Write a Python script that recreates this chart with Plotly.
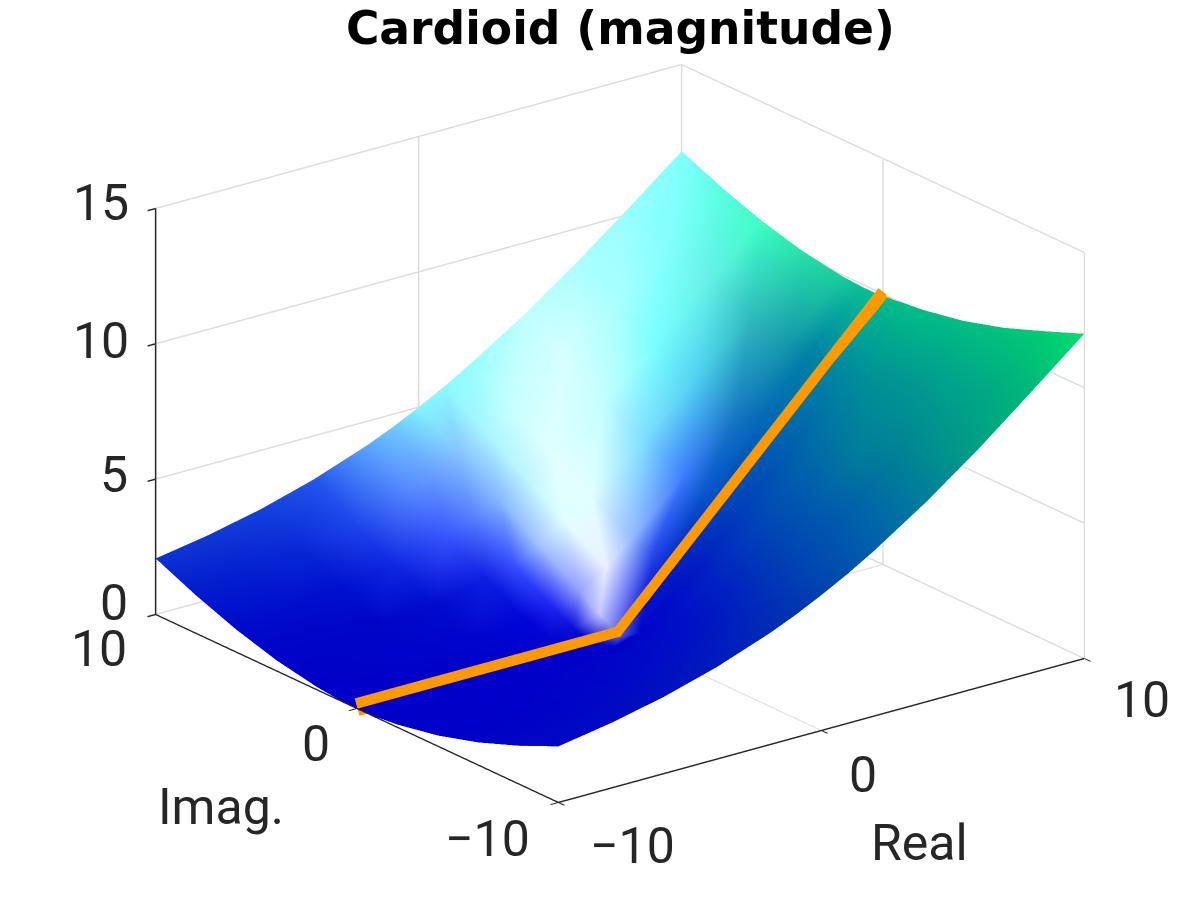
# Imports
import plotly.graph_objects as go

real_values = [-10, -8, -6, -4, -2, -1, 0, 1, 2, 4, 6, 8, 10]
imag_values = [-10, -8, -6, -4, -2, -1, 0, 1, 2, 4, 6, 8, 10]

# magnitude, one row per imag value
magnitude = [
    [2.07, 2.40, 2.83, 3.39, 4.10, 4.52, 5.00, 5.52, 6.10, 7.39, 8.83, 10.40, 12.00],
    [1.40, 1.66, 2.00, 2.47, 3.12, 3.53, 4.00, 4.53, 5.12, 6.47, 8.00, 9.66, 11.40],
    [0.83, 1.00, 1.24, 1.61, 2.16, 2.54, 3.00, 3.54, 4.16, 5.61, 7.24, 9.00, 10.83],
    [0.39, 0.47, 0.61, 0.83, 1.24, 1.56, 2.00, 2.56, 3.24, 4.83, 6.61, 8.47, 10.39],
    [0.10, 0.12, 0.16, 0.24, 0.41, 0.62, 1.00, 1.62, 2.41, 4.24, 6.16, 8.12, 10.10],
    [0.02, 0.03, 0.04, 0.06, 0.12, 0.21, 0.50, 1.21, 2.12, 4.06, 6.04, 8.03, 10.02],
    [0.00, 0.00, 0.00, 0.00, 0.00, 0.00, 0.00, 1.00, 2.00, 4.00, 6.00, 8.00, 9.90],
    [0.02, 0.03, 0.04, 0.06, 0.12, 0.21, 0.50, 1.21, 2.12, 4.06, 6.04, 8.03, 9.90],
    [0.10, 0.12, 0.16, 0.24, 0.41, 0.62, 1.00, 1.62, 2.41, 4.24, 6.16, 8.12, 9.95],
    [0.39, 0.47, 0.61, 0.83, 1.24, 1.56, 2.00, 2.56, 3.24, 4.83, 6.61, 8.40, 10.20],
    [0.83, 1.00, 1.24, 1.61, 2.16, 2.54, 3.00, 3.54, 4.16, 5.61, 7.20, 8.90, 10.60],
    [1.40, 1.66, 2.00, 2.47, 3.12, 3.53, 4.00, 4.53, 5.12, 6.45, 7.95, 9.55, 11.15],
    [2.07, 2.40, 2.83, 3.39, 4.10, 4.52, 5.00, 5.52, 6.10, 7.35, 8.75, 10.25, 11.80],
]

# colour, one row per imag value
surface_rgb = [
    [(0,8,195), (0,12,192), (0,18,190), (0,28,185), (0,42,180), (0,52,176), (0,65,172), (0,80,170), (0,95,170), (0,125,155), (0,160,130), (0,185,120), (0,222,110)],
    [(0,5,196), (0,8,195), (0,10,195), (0,18,192), (0,30,188), (0,40,184), (0,50,180), (0,65,178), (0,80,175), (0,110,165), (0,145,140), (0,170,130), (0,205,115)],
    [(0,2,198), (0,3,198), (0,5,198), (0,10,198), (0,18,195), (0,25,192), (0,35,190), (0,50,185), (0,65,180), (0,95,170), (0,130,150), (0,160,140), (0,195,125)],
    [(0,0,200), (0,0,200), (0,2,200), (0,5,200), (0,10,198), (0,14,197), (0,20,195), (0,32,192), (0,50,185), (0,85,175), (0,125,155), (0,150,145), (0,190,130)],
    [(0,0,200), (0,0,200), (0,0,200), (0,2,200), (0,5,200), (0,7,200), (0,10,200), (0,20,198), (0,35,195), (0,75,180), (0,110,165), (0,145,150), (0,190,135)],
    [(0,0,200), (0,0,200), (0,0,200), (0,0,200), (0,0,200), (0,0,200), (0,5,200), (0,12,200), (0,25,195), (0,65,185), (0,100,172), (0,140,158), (0,190,135)],
    [(0,0,200), (0,0,200), (0,0,200), (0,0,200), (0,0,200), (0,0,200), (80,85,230), (0,20,200), (0,30,195), (0,70,185), (0,100,175), (0,135,160), (0,190,140)],
    [(0,0,200), (0,0,200), (0,1,200), (0,2,203), (2,4,208), (10,15,215), (195,200,255), (120,130,250), (40,70,235), (10,90,205), (5,105,185), (0,130,165), (10,190,150)],
    [(0,1,200), (0,2,200), (0,3,202), (0,5,206), (0,5,215), (30,35,240), (150,160,255), (235,240,255), (150,185,255), (60,125,250), (25,125,195), (20,155,170), (25,205,155)],
    [(0,3,200), (0,3,200), (0,5,200), (0,10,205), (15,30,225), (55,80,255), (165,195,255), (225,255,255), (225,255,255), (125,222,255), (80,210,240), (50,190,190), (40,225,170)],
    [(0,10,202), (0,12,203), (0,15,205), (15,40,225), (55,85,255), (85,125,255), (135,185,255), (190,245,255), (225,255,255), (195,255,255), (120,255,255), (100,240,230), (60,255,195)],
    [(2,25,205), (3,30,207), (8,40,215), (30,70,235), (85,135,255), (105,160,255), (135,195,255), (170,245,255), (200,255,255), (215,255,255), (170,255,255), (130,255,255), (90,255,225)],
    [(12,50,212), (15,55,213), (20,65,220), (35,85,235), (90,165,255), (110,200,255), (130,245,255), (140,250,255), (150,255,255), (190,255,255), (170,255,255), (150,255,255), (130,255,255)],
]

# orange path along the real axis
path_real = [-10, 0, 10]
path_imag = [0, 0, -0.12]
path_mag = [0.05, 0.05, 10.05]

real_ticks = [-10, 0, 10]
imag_ticks = [-10, 0, 10]
mag_ticks = [0, 5, 10, 15]
real_labels = ["\u221210", "0", "10"]
imag_labels = ["\u221210", "0", "10"]
mag_labels = ["0", "5", "10", "15"]

TEXT = "#262626"
FONT = "Roboto"
TICK_SIZE = 50


def surface_mesh():
    """Turn the grid tables into a mesh with one colour per vertex."""
    n_real = len(real_values)
    xs, ys, zs, colors = [], [], [], []
    for row, imag in enumerate(imag_values):
        for col, real in enumerate(real_values):
            xs.append(real)
            ys.append(imag)
            zs.append(magnitude[row][col])
            colors.append("rgb(%d,%d,%d)" % surface_rgb[row][col])

    i, j, k = [], [], []
    for row in range(len(imag_values) - 1):
        for col in range(n_real - 1):
            a = row * n_real + col
            i += [a, a]
            j += [a + 1, a + n_real + 1]
            k += [a + n_real + 1, a + n_real]

    return go.Mesh3d(x=xs, y=ys, z=zs, i=i, j=j, k=k, vertexcolor=colors,
                     flatshading=False, hoverinfo="skip", showscale=False,
                     lighting=dict(ambient=1, diffuse=0, specular=0, roughness=1, fresnel=0))


def axis_style(ticks, rng):
    return dict(title=dict(text=""), range=rng, tickvals=ticks, showticklabels=False,
                ticks="outside", ticklen=10, tickwidth=3, tickcolor=TEXT,
                showgrid=True, gridcolor="#DCDCDC", gridwidth=3, zeroline=False,
                showline=True, linecolor=TEXT, linewidth=3, mirror=False,
                showbackground=False, showspikes=False)


def label(x, y, z, text, xshift, yshift):
    return dict(x=x, y=y, z=z, text=text, showarrow=False, xshift=xshift, yshift=yshift,
                font=dict(family=FONT, size=TICK_SIZE, color=TEXT))


fig = go.Figure()
fig.add_trace(surface_mesh())
fig.add_trace(go.Scatter3d(x=path_real, y=path_imag, z=path_mag, mode="lines", hoverinfo="skip",
                           showlegend=False, line=dict(color="#FF9900", width=36)))

x_lo, x_hi = real_ticks[0], real_ticks[-1]
y_lo, y_hi = imag_ticks[0], imag_ticks[-1]
z_lo, z_hi = mag_ticks[0], mag_ticks[-1]

real_shifts = [(74, -44), (42, -45), (58, -42)]
imag_shifts = [(-71, -37), (-41, -36), (-57, -35)]
mag_shifts = [(-42, 11), (-42, 4), (-55, 3), (-55, 5)]

annotations = []
for tick, text, (dx, dy) in zip(real_ticks, real_labels, real_shifts):
    annotations.append(label(tick, y_lo, z_lo, text, dx, dy))
for tick, text, (dx, dy) in zip(imag_ticks, imag_labels, imag_shifts):
    annotations.append(label(x_lo, tick, z_lo, text, dx, dy))
for tick, text, (dx, dy) in zip(mag_ticks, mag_labels, mag_shifts):
    annotations.append(label(x_lo, y_hi, tick, text, dx, dy))
annotations.append(label(real_ticks[1], y_lo, z_lo, "Real", 98, -113))
annotations.append(label(x_lo, imag_ticks[1], z_lo, "Imag.", -136, -99))

fig.update_layout(
    width=1200, height=900, paper_bgcolor="white", showlegend=False,
    margin=dict(l=0, r=0, t=0, b=0),
    title=dict(text="<b>Cardioid (magnitude)</b>", x=0.5103, xanchor="center", y=0.978, yanchor="middle",
               font=dict(family="DejaVu Sans", size=45.6, color="black")),
    scene=dict(
        domain=dict(x=[0.02, 1], y=[0.0547, 1]),
        xaxis=axis_style(real_ticks, [x_lo, x_hi]),
        yaxis=axis_style(imag_ticks, [y_lo, y_hi]),
        zaxis=axis_style(mag_ticks, [z_lo, z_hi]),
        aspectmode="manual", aspectratio=dict(x=1.557, y=1.557, z=1.0216),
        camera=dict(eye=dict(x=-0.85, y=-1.11, z=0.535), up=dict(x=0, y=0, z=1),
                    center=dict(x=0, y=0, z=0),
                    projection=dict(type="orthographic")),
        annotations=annotations,
    ),
)

fig.write_html("out.html")
